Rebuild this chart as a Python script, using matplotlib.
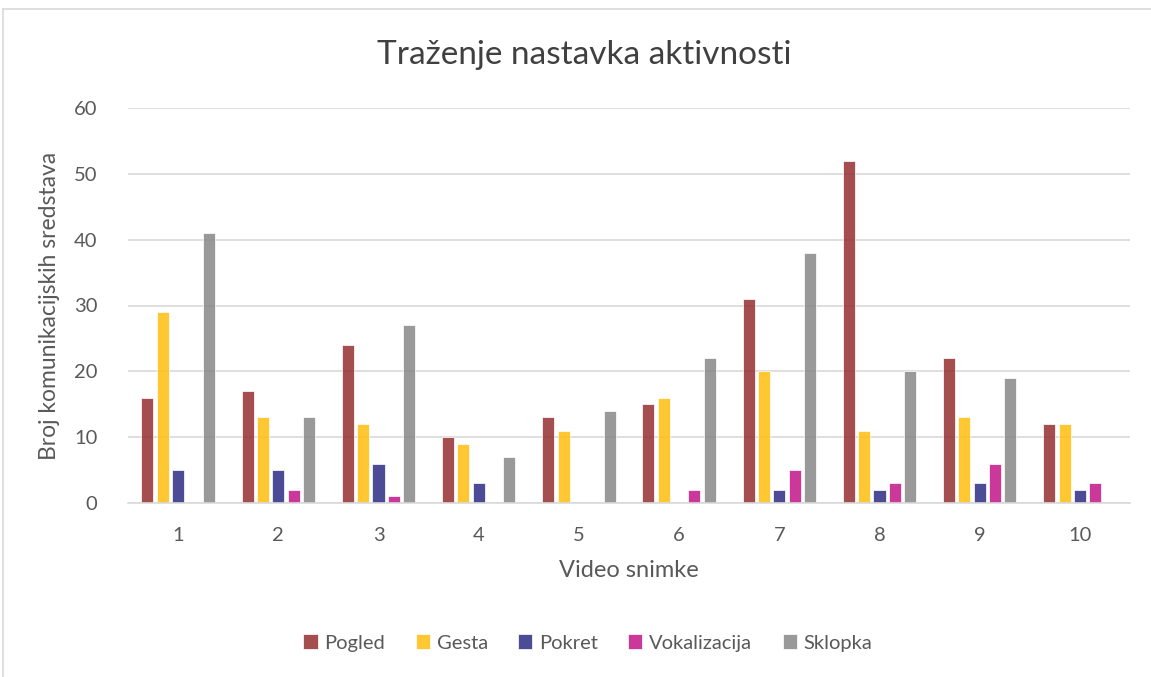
import matplotlib
matplotlib.use("Agg")
import matplotlib.pyplot as plt
import numpy as np
from matplotlib.lines import Line2D

plt.rcParams.update({
    "font.family": ["Lato", "DejaVu Sans"],
    "text.color": "#595959",
    "axes.labelcolor": "#595959",
    "xtick.color": "#595959",
    "ytick.color": "#595959",
})

videos = ['1', '2', '3', '4', '5', '6', '7', '8', '9', '10']
series = ['Pogled', 'Gesta', 'Pokret', 'Vokalizacija', 'Sklopka']
pogled = [16, 17, 24, 10, 13, 15, 31, 52, 22, 12]
gesta = [29, 13, 12, 9, 11, 16, 20, 11, 13, 12]
pokret = [5, 5, 6, 3, 0, 0, 2, 2, 3, 2]
vokalizacija = [0, 2, 1, 0, 0, 2, 5, 3, 6, 3]
sklopka = [41, 13, 27, 7, 14, 22, 38, 20, 19, 0]
values = [pogled, gesta, pokret, vokalizacija, sklopka]
colors = ['#952F31', '#FFBF0F', '#2B2C83', '#C31489', '#878787']

W, H = 1151, 677
fig = plt.figure(figsize=(W / 100, H / 100), dpi=100)
ax = fig.add_axes([128 / W, 1 - 503 / H, (1130 - 128) / W, (503 - 108) / H])

# outer chart border (left and top visible)
fig.add_artist(Line2D([3 / W, 3 / W], [0, 1 - 9 / H], color='#D9D9D9', lw=1.2,
                      transform=fig.transFigure))
fig.add_artist(Line2D([3 / W, 1], [1 - 9 / H, 1 - 9 / H], color='#D9D9D9', lw=1.2,
                      transform=fig.transFigure))

x = np.arange(len(videos))
step = 0.153
w = 0.12
for i, (name, vals, c) in enumerate(zip(series, values, colors)):
    ax.bar(x + (i - 2) * step, vals, w, color=c, alpha=0.85, label=name,
           edgecolor='white', linewidth=0.6, zorder=2)

ax.set_xlim(-0.5, len(videos) - 0.5)
ax.set_ylim(0, 60)
ax.set_yticks(range(0, 61, 10))
ax.set_xticks(x)
ax.set_xticklabels(videos)
ax.yaxis.grid(True, color='#D9D9D9', lw=1.2, zorder=0)
ax.set_axisbelow(True)
for s in ['top', 'right', 'left']:
    ax.spines[s].set_visible(False)
ax.spines['bottom'].set_color('#D9D9D9')
ax.spines['bottom'].set_linewidth(1.2)
ax.tick_params(axis='both', length=0, labelsize=14.5)
ax.tick_params(axis='x', pad=17)
ax.tick_params(axis='y', pad=22)

ax.set_xlabel('Video snimke', fontsize=17, labelpad=12)
ax.set_ylabel('Broj komunikacijskih sredstava', fontsize=16.5, labelpad=10)
fig.text(584 / W, 1 - 55 / H, 'Traženje nastavka aktivnosti',
         ha='center', va='center', fontsize=24, color='#404040')

handles, labels = ax.get_legend_handles_labels()
fig.legend(handles, labels, loc='center', bbox_to_anchor=(588 / W, 1 - 643 / H),
           ncol=5, frameon=False, fontsize=14.5, handlelength=0.7, handleheight=0.7,
           handletextpad=0.35, columnspacing=1.5)

fig.savefig('out.png', dpi=100, facecolor='white')
